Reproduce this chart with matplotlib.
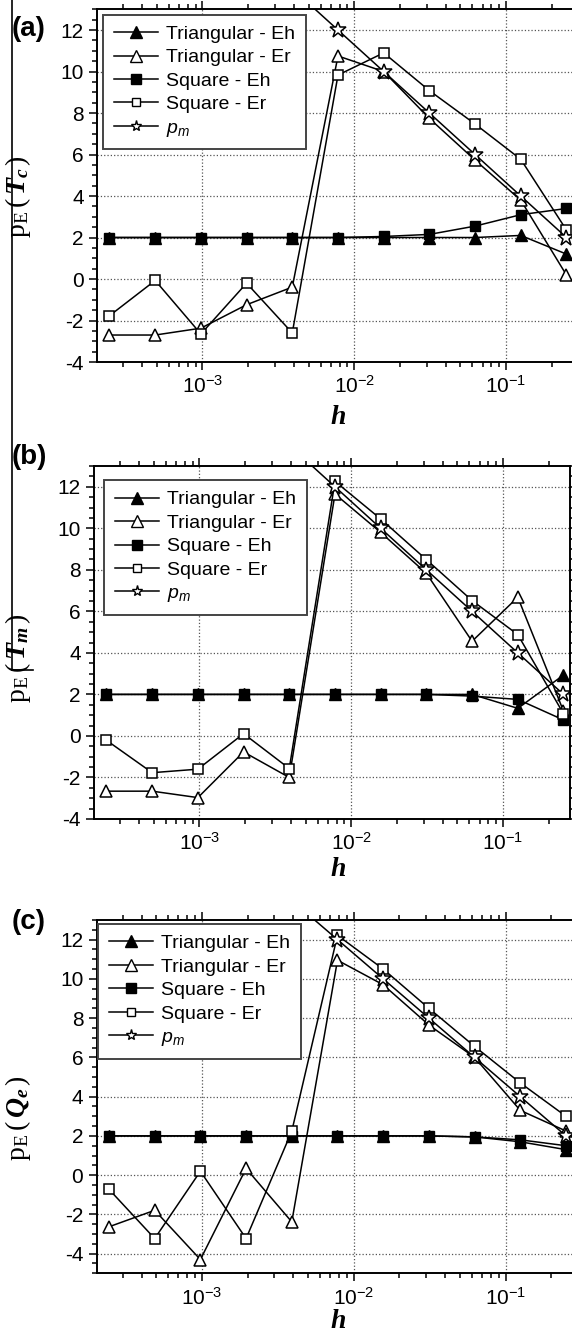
import numpy as np
import matplotlib
matplotlib.use("Agg")
import matplotlib.pyplot as plt
from matplotlib.ticker import MultipleLocator, LogLocator, FuncFormatter, NullFormatter
from matplotlib.lines import Line2D

plt.rcParams['font.family'] = ['Liberation Sans', 'DejaVu Sans']
plt.rcParams['axes.unicode_minus'] = False
plt.rcParams['mathtext.fontset'] = 'custom'
plt.rcParams['mathtext.rm'] = 'Liberation Serif'
plt.rcParams['mathtext.it'] = 'Liberation Serif:italic:bold'
plt.rcParams['mathtext.bf'] = 'Liberation Sans:italic'
plt.rcParams['mathtext.sf'] = 'Liberation Sans'

# step sizes h = 2^-12 ... 2^-2
h = [2.441e-4, 4.883e-4, 9.766e-4, 1.953e-3, 3.906e-3, 7.813e-3,
     1.563e-2, 3.125e-2, 6.25e-2, 0.125, 0.25]
pm = [22, 20, 18, 16, 14, 12, 10, 8, 6, 4, 2]

# (a) Tc
tri_eh_a = [2, 2, 2, 2, 2, 2, 2.0, 2.0, 2.0, 2.1, 1.2]
tri_er_a = [-2.7, -2.7, -2.37, -1.24, -0.39, 10.75, 10.0, 7.74, 5.73, 3.8, 0.19]
sq_eh_a = [2, 2, 2, 2, 2, 2, 2.05, 2.15, 2.55, 3.1, 3.4]
sq_er_a = [-1.77, -0.07, -2.65, -0.2, -2.6, 9.83, 10.9, 9.08, 7.47, 5.77, 2.36]

# (b) Tm
tri_eh_b = [2, 2, 2, 2, 2, 2, 2, 2, 2.0, 1.33, 2.93]
tri_er_b = [-2.66, -2.66, -2.97, -0.77, -2.0, 11.65, 9.8, 7.83, 4.56, 6.68, 1.2]
sq_eh_b = [2, 2, 2, 2, 2, 2, 2, 2.0, 1.92, 1.76, 0.77]
sq_er_b = [-0.21, -1.77, -1.6, 0.11, -1.57, 12.26, 10.45, 8.49, 6.52, 4.88, 1.07]

# (c) Qe
tri_eh_c = [2, 2, 2, 2, 2, 2, 2, 2, 1.95, 1.7, 1.3]
tri_er_c = [-2.63, -1.79, -4.3, 0.34, -2.38, 10.95, 9.7, 7.65, 6.0, 3.3, 2.25]
sq_eh_c = [2, 2, 2, 2, 2, 2, 2, 2, 1.95, 1.8, 1.5]
sq_er_c = [-0.72, -3.23, 0.2, -3.23, 2.24, 12.22, 10.5, 8.5, 6.56, 4.7, 3.0]

labels = ['Triangular - Eh', 'Triangular - Er', 'Square - Eh', 'Square - Er', r'$\mathbf{p_m}$']
panels = [
    ('(a)', r'$\mathrm{p}_{\mathrm{E}}\,(\,T_c\,)$', (tri_eh_a, tri_er_a, sq_eh_a, sq_er_a), (-4, 13)),
    ('(b)', r'$\mathrm{p}_{\mathrm{E}}\,(\,T_m\,)$', (tri_eh_b, tri_er_b, sq_eh_b, sq_er_b), (-4, 13)),
    ('(c)', r'$\mathrm{p}_{\mathrm{E}}\,(\,Q_e\,)$', (tri_eh_c, tri_er_c, sq_eh_c, sq_er_c), (-5, 13)),
]

W, H = 572, 1338
fig = plt.figure(figsize=(W / 100, H / 100), dpi=100)

# axes boxes in pixels: left, top, bottom
boxes = [(97, 9.3, 362), (94, 466, 819), (96.5, 920, 1273.3)]
leg_anchor = [(0.0126, 0.985), (0.021, 0.96), (0.003, 0.989)]
ylab_y = [0.47, 0.456, 0.44]
xlab_off = [56, 50, 48]
tag_y = [29, 457, 922]
AW = 476

for i, (tag, ylab, (teh, ter, seh, ser), ylim) in enumerate(panels):
    l, t, b = boxes[i]
    ax = fig.add_axes([l / W, 1 - b / H, AW / W, (b - t) / H])
    ax.set_xscale('log')
    ax.set_xlim(2.02e-4, 0.276)
    ax.set_ylim(*ylim)

    lw = 1.1
    ax.plot(h, seh, '-', color='k', lw=lw, marker='s', ms=7, mfc='k', mec='k')
    ax.plot(h, teh, '-', color='k', lw=lw, marker='^', ms=8.5, mfc='k', mec='k')
    ax.plot(h, ter, '-', color='k', lw=lw, marker='^', ms=8.5, mfc='white', mec='k', mew=1.1)
    ax.plot(h, ser, '-', color='k', lw=lw, marker='s', ms=7.5, mfc='white', mec='k', mew=1.1)
    ax.plot(h, pm, '-', color='k', lw=lw, marker='*', ms=12, mfc='white', mec='k', mew=1.1)

    handles = [
        Line2D([], [], color='k', lw=lw, marker='^', ms=8, mfc='k', mec='k'),
        Line2D([], [], color='k', lw=lw, marker='^', ms=8, mfc='white', mec='k'),
        Line2D([], [], color='k', lw=lw, marker='s', ms=6.5, mfc='k', mec='k'),
        Line2D([], [], color='k', lw=lw, marker='s', ms=5.5, mfc='white', mec='k'),
        Line2D([], [], color='k', lw=lw, marker='*', ms=8, mfc='white', mec='k'),
    ]
    leg = ax.legend(handles, labels, loc='upper left', bbox_to_anchor=leg_anchor[i],
                    borderaxespad=0, fontsize=14, handlelength=2.3, handletextpad=0.4,
                    labelspacing=0.3, borderpad=0.55, fancybox=False, framealpha=1)
    leg.get_frame().set_edgecolor('#444444')
    leg.get_frame().set_linewidth(1.4)

    ax.grid(True, which='major', linestyle=':', color='#555555', lw=0.9)
    ax.yaxis.set_major_locator(MultipleLocator(2))
    ax.yaxis.set_minor_locator(MultipleLocator(0.5))
    ax.xaxis.set_major_locator(LogLocator(base=10))
    ax.xaxis.set_minor_locator(LogLocator(base=10, subs=np.arange(2, 10)))
    ax.xaxis.set_minor_formatter(NullFormatter())
    ax.xaxis.set_major_formatter(FuncFormatter(
        lambda v, pos: r'$\mathsf{10^{%d}}$' % int(round(np.log10(v)))))
    ax.tick_params(which='both', direction='out', top=True, right=True, labelsize=15, width=1.1)
    ax.tick_params(which='major', length=6)
    ax.tick_params(which='minor', length=3.5)
    for sp in ax.spines.values():
        sp.set_linewidth(1.4)

    ax.set_ylabel(ylab, fontsize=20)
    ax.yaxis.set_label_coords((33 - l) / AW, ylab_y[i])
    ax.set_xlabel('h', fontsize=20, family='Liberation Serif', weight='bold', style='italic')
    ax.xaxis.set_label_coords((338 - l) / AW, -xlab_off[i] / (b - t))
    ax.xaxis.label.set_va('center')

    fig.text(12 / W, 1 - tag_y[i] / H, tag, fontsize=20, weight='bold', ha='left', va='center')

# page border remnant at the left
fig.add_artist(Line2D([12 / W, 12 / W], [1, 1 - 670 / H], color='k', lw=1.2))
fig.add_artist(Line2D([12 / W, 33 / W], [1 - 670 / H, 1 - 670 / H], color='k', lw=1.2))

fig.savefig('out.png', dpi=100)
